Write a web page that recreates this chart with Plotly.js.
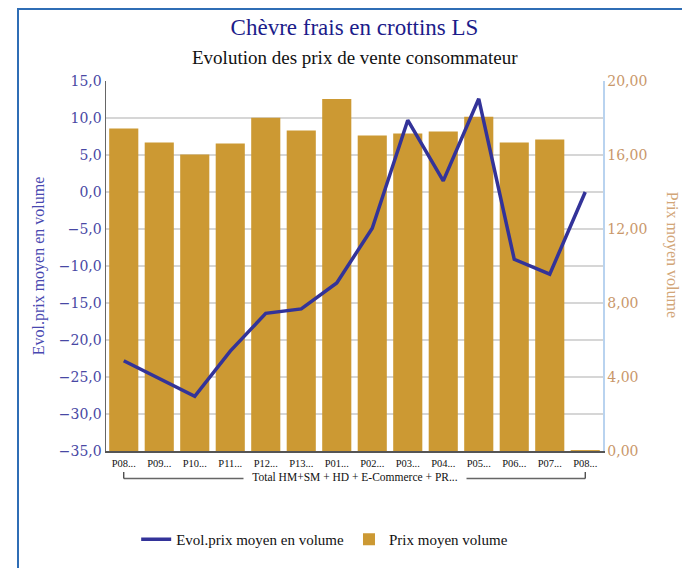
<!DOCTYPE html>
<html>
<head>
<meta charset="utf-8">
<script src="https://cdn.plot.ly/plotly-3.0.1.min.js"></script>
<style>
  html, body { margin: 0; padding: 0; background: #fff; }
  #wrap { position: relative; width: 682px; height: 568px; overflow: hidden; }
  #chart { position: absolute; left: 0; top: 0; width: 682px; height: 568px; }
  #frame { position: absolute; left: 17px; top: 8px; width: 700px; height: 600px;
           border-left: 2px solid #2f6db5; border-top: 2px solid #2f6db5;
           pointer-events: none; }
</style>
</head>
<body>
<div id="wrap">
  <div id="chart"></div>
  <div id="frame"></div>
</div>
<script>
// Periods (4-week periods), truncated as in the axis labels
const periodLabels = ["P08...", "P09...", "P10...", "P11...", "P12...", "P13...", "P01...",
                      "P02...", "P03...", "P04...", "P05...", "P06...", "P07...", "P08..."];
const groupLabel = "Total HM+SM + HD + E-Commerce + PR...";

// Average consumer price (right axis, bars)
const prixMoyen = [17.43, 16.68, 16.03, 16.62, 18.02, 17.32, 19.03,
                   17.05, 17.16, 17.27, 18.07, 16.68, 16.84, 0.05];

// Change of the average price in volume, % (left axis, line)
const evolPrix = [-22.8, -25.2, -27.6, -21.5, -16.4, -15.8, -12.3,
                  -4.9, 9.7, 1.5, 12.6, -9.1, -11.1, 0.0];

const xIdx = periodLabels.map((_, i) => i);

const serif = "Liberation Serif, Times New Roman, serif";
const tickSerif = "'DejaVu Serif', 'Liberation Serif', serif";

const traces = [
  {
    type: "bar",
    name: "Prix moyen volume",
    x: xIdx,
    y: prixMoyen,
    yaxis: "y",
    marker: { color: "#cc9933" },
    legendrank: 2,
    hoverinfo: "skip"
  },
  {
    type: "scatter",
    mode: "lines",
    name: "Evol.prix moyen en volume",
    x: xIdx,
    y: evolPrix,
    yaxis: "y2",
    line: { color: "#333399", width: 3.5 },
    legendrank: 1,
    hoverinfo: "skip"
  }
];

const layout = {
  width: 682,
  height: 568,
  margin: { l: 106, r: 79, t: 81, b: 114 },
  paper_bgcolor: "#ffffff",
  plot_bgcolor: "#ffffff",
  separators: ", ",
  bargap: 0.18,
  showlegend: true,
  hovermode: false,
  title: {
    text: "Chèvre frais en crottins LS",
    font: { family: serif, size: 23, color: "#1c1c8a" },
    x: 0.5, xref: "paper", xanchor: "center",
    y: 1 - 27 / 568, yref: "container", yanchor: "middle"
  },
  xaxis: {
    range: [-0.5, 13.5],
    tickmode: "array",
    tickvals: xIdx,
    ticktext: periodLabels,
    tickangle: 0,
    tickfont: { family: serif, size: 10.5, color: "#111" },
    ticklabelstandoff: 2,
    showgrid: false,
    zeroline: false,
    showline: true,
    linecolor: "#555",
    linewidth: 1.5,
    ticks: "",
    fixedrange: true
  },
  yaxis: {
    side: "right",
    range: [0, 20],
    dtick: 4,
    tickformat: ".2f",
    tickfont: { family: tickSerif, size: 14, color: "#c9976a" },
    showgrid: true,
    gridcolor: "#a9c6e6",
    griddash: "dot",
    gridwidth: 1,
    zeroline: false,
    showline: true,
    linecolor: "#b9d3ef",
    linewidth: 1.5,
    ticks: "",
    fixedrange: true
  },
  yaxis2: {
    overlaying: "y",
    side: "left",
    range: [-35, 15],
    dtick: 5,
    tickformat: ".1f",
    tickfont: { family: tickSerif, size: 14, color: "#4848a4" },
    title: {
      text: "Evol.prix moyen en volume",
      font: { family: serif, size: 16, color: "#4848b0" },
      standoff: 10
    },
    showgrid: true,
    gridcolor: "#d6d6d6",
    gridwidth: 1.5,
    zeroline: false,
    showline: true,
    linecolor: "#666",
    linewidth: 1.5,
    ticks: "",
    fixedrange: true
  },
  legend: {
    orientation: "h",
    x: 0.44, xanchor: "center",
    y: -0.239, yanchor: "middle",
    font: { family: serif, size: 15, color: "#111" },
    itemwidth: 30,
    bgcolor: "rgba(0,0,0,0)"
  },
  shapes: [
    // bracket grouping all periods under the channel label
    { type: "line", xref: "x", yref: "paper", x0: 0, x1: 13, y0: -0.074, y1: -0.074,
      line: { color: "#666", width: 1.5 } },
    { type: "line", xref: "x", yref: "paper", x0: 0, x1: 0, y0: -0.074, y1: -0.057,
      line: { color: "#333", width: 1.2 } },
    { type: "line", xref: "x", yref: "paper", x0: 13, x1: 13, y0: -0.074, y1: -0.057,
      line: { color: "#333", width: 1.2 } }
  ],
  annotations: [
    {
      text: "Evolution des prix de vente consommateur",
      xref: "paper", yref: "paper", x: 0.5, y: 1.064,
      xanchor: "center", yanchor: "middle", showarrow: false,
      font: { family: serif, size: 19, color: "#111" }
    },
    {
      text: groupLabel,
      xref: "x", yref: "paper", x: 6.5, y: -0.069,
      xanchor: "center", yanchor: "middle", showarrow: false,
      width: 222, align: "center",
      bgcolor: "#ffffff", borderpad: 0,
      font: { family: serif, size: 11.5, color: "#111" }
    },
    {
      text: "Prix moyen volume",
      xref: "paper", yref: "paper", x: 1.139, y: 0.53,
      xanchor: "center", yanchor: "middle", showarrow: false,
      textangle: 90,
      font: { family: serif, size: 16, color: "#d2a678" }
    }
  ]
};

Plotly.newPlot("chart", traces, layout, { displayModeBar: false, staticPlot: true });
</script>
</body>
</html>
